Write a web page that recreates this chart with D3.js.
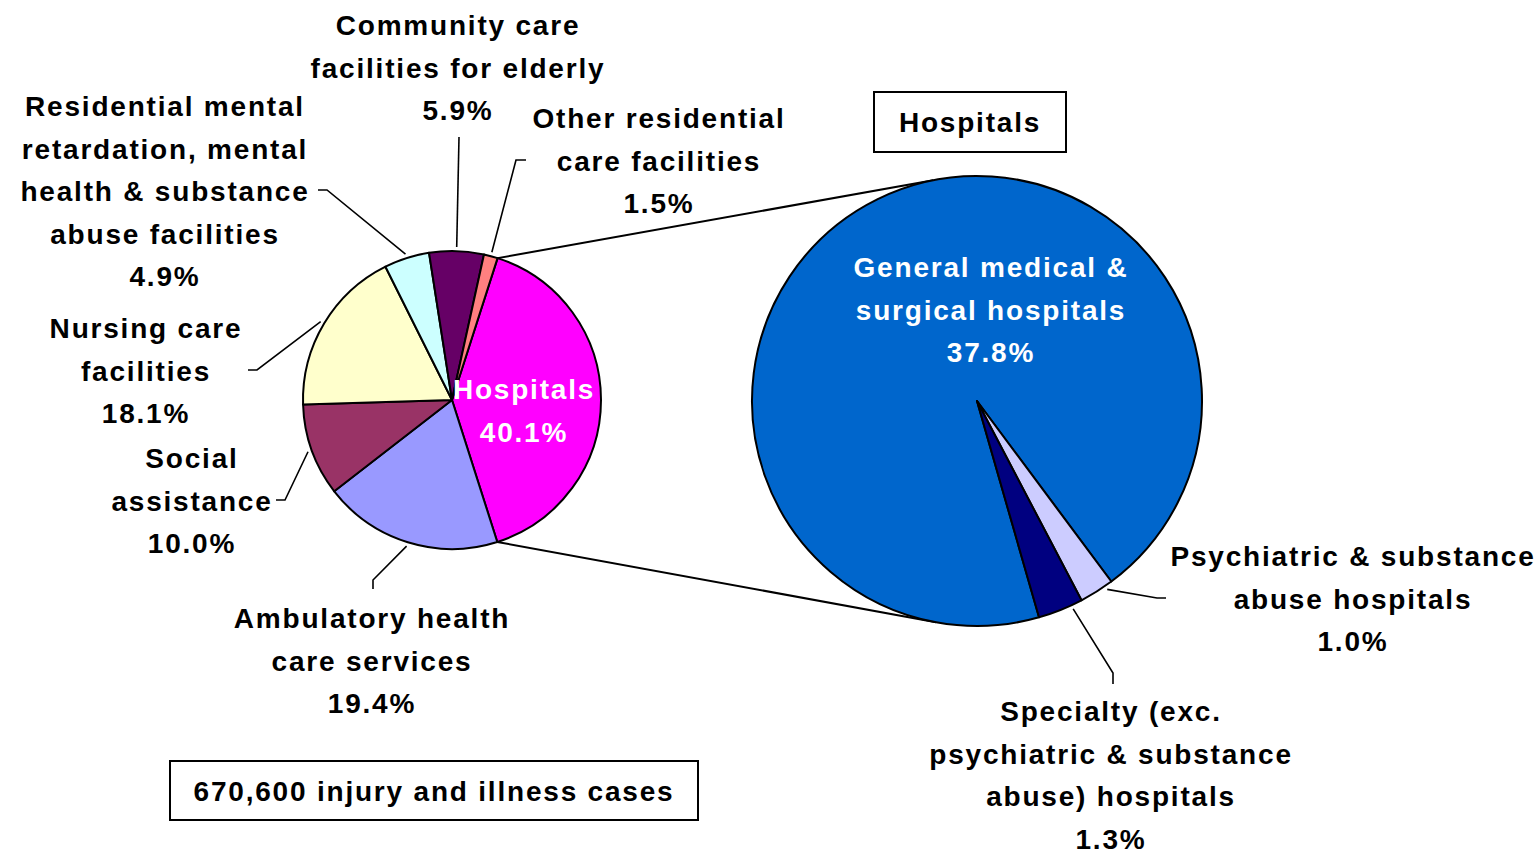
<!DOCTYPE html>
<html>
<head>
<meta charset="utf-8">
<script src="https://cdn.jsdelivr.net/npm/d3@7"></script>
<style>
  body { margin: 0; background: #fff; }
  svg text { font-family: 'Liberation Sans', Arial, sans-serif; font-weight: bold; font-size: 28px; letter-spacing: 1.8px; }
</style>
</head>
<body>
<div id="chart"></div>
<script>
'use strict';

// Industry breakdown (share of all cases, %)
var categories = [
  'Hospitals',
  'Ambulatory health care services',
  'Social assistance',
  'Nursing care facilities',
  'Residential mental retardation, mental health & substance abuse facilities',
  'Community care facilities for elderly',
  'Other residential care facilities'
];
var shares = [40.1, 19.4, 10.0, 18.1, 4.9, 5.9, 1.5];
var colors = ['#FF00FF', '#9999FF', '#993366', '#FFFFCC', '#CCFFFF', '#660066', '#FF8080'];
var labelLines = [
  ['Hospitals', '40.1%'],
  ['Ambulatory health', 'care services', '19.4%'],
  ['Social', 'assistance', '10.0%'],
  ['Nursing care', 'facilities', '18.1%'],
  ['Residential mental', 'retardation, mental', 'health & substance', 'abuse facilities', '4.9%'],
  ['Community care', 'facilities for elderly', '5.9%'],
  ['Other residential', 'care facilities', '1.5%']
];

// Hospitals split (share of all cases, %)
var hospitalTypes = [
  'General medical & surgical hospitals',
  'Psychiatric & substance abuse hospitals',
  'Specialty (exc. psychiatric & substance abuse) hospitals'
];
var hospitalShares = [37.8, 1.0, 1.3];
var hospitalColors = ['#0066CC', '#CCCCFF', '#000080'];
var hospitalLabelLines = [
  ['General medical &', 'surgical hospitals', '37.8%'],
  ['Psychiatric & substance', 'abuse hospitals', '1.0%'],
  ['Specialty (exc.', 'psychiatric & substance', 'abuse) hospitals', '1.3%']
];

var totalCases = '670,600 injury and illness cases';

// ── Layout ─────────────────────────────────────────
var W = 1540, H = 851;
var deg = Math.PI / 180;
var left = { cx: 452, cy: 400, r: 149, start: 17.8 };
var right = { cx: 977, cy: 401, r: 225, start: 164 };
var lineH = 42.5;

// label anchor (center x, first baseline), leader: elbow and tick end; inside labels have no leader
var leftLabels = [
  { x: 524, y: 399, fill: '#fff' },
  { x: 372, y: 628, elbow: [373, 580], end: [373, 589] },
  { x: 192, y: 468, elbow: [285, 500], end: [276, 500] },
  { x: 146, y: 338, elbow: [257, 370], end: [248, 370] },
  { x: 165, y: 116, elbow: [327, 190], end: [318, 190] },
  { x: 458, y: 35, elbow: [459, 137], end: [459, 137] },
  { x: 659, y: 128, elbow: [516, 160], end: [526, 160] }
];
var rightLabels = [
  { x: 991, y: 277, fill: '#fff' },
  { x: 1353, y: 566, elbow: [1157, 598], end: [1166, 598], nudge: -2.5 },
  { x: 1111, y: 721, elbow: [1113, 673], end: [1113, 684], nudge: -3 }
];

var svg = d3.select('#chart').append('svg')
  .attr('width', W)
  .attr('height', H);

function drawPie(values, fills, cfg) {
  var pie = d3.pie().sort(null)
    .startAngle(cfg.start * deg)
    .endAngle((cfg.start + 360) * deg);
  var arcs = pie(values);
  var arc = d3.arc().innerRadius(0).outerRadius(cfg.r);
  var g = svg.append('g').attr('transform', 'translate(' + cfg.cx + ',' + cfg.cy + ')');
  g.selectAll('path')
    .data(arcs)
    .join('path')
    .attr('d', arc)
    .attr('fill', function (d, i) { return fills[i]; })
    .attr('stroke', '#000')
    .attr('stroke-width', 2)
    .attr('stroke-linejoin', 'round');
  return arcs;
}

function polar(cfg, angle, r) {
  return [cfg.cx + r * Math.sin(angle), cfg.cy - r * Math.cos(angle)];
}

function drawLabels(arcs, lines, pos, cfg) {
  arcs.forEach(function (d, i) {
    var p = pos[i];
    if (p.elbow) {
      var mid = (d.startAngle + d.endAngle) / 2 + (p.nudge || 0) * deg;
      var a = polar(cfg, mid, cfg.r + 4);
      svg.append('polyline')
        .attr('points', [a, p.elbow, p.end].map(function (q) { return q.join(','); }).join(' '))
        .attr('fill', 'none')
        .attr('stroke', '#000')
        .attr('stroke-width', 1.6);
    }
    var t = svg.append('text')
      .attr('text-anchor', 'middle')
      .attr('fill', p.fill || '#000');
    lines[i].forEach(function (s, k) {
      t.append('tspan').attr('x', p.x).attr('y', p.y + k * lineH).text(s);
    });
  });
}

// Connectors between the two pies (drawn first, under the pies)
var leftArcs = d3.pie().sort(null).startAngle(left.start * deg).endAngle((left.start + 360) * deg)(shares);
var hosp = leftArcs[0];
var connectTo = [-11.2, 190.5];
[[hosp.startAngle, connectTo[0]], [hosp.endAngle, connectTo[1]]].forEach(function (c) {
  var a = polar(left, c[0], left.r);
  var b = polar(right, c[1] * deg, right.r);
  svg.append('line')
    .attr('x1', a[0]).attr('y1', a[1])
    .attr('x2', b[0]).attr('y2', b[1])
    .attr('stroke', '#000')
    .attr('stroke-width', 2);
});

var la = drawPie(shares, colors, left);
var ra = drawPie(hospitalShares, hospitalColors, right);
drawLabels(la, labelLines, leftLabels, left);
drawLabels(ra, hospitalLabelLines, rightLabels, right);

// Boxes
function box(x, y, w, h, text) {
  svg.append('rect')
    .attr('x', x).attr('y', y).attr('width', w).attr('height', h)
    .attr('fill', '#fff').attr('stroke', '#000').attr('stroke-width', 2);
  svg.append('text')
    .attr('x', x + w / 2).attr('y', y + h / 2 + 10)
    .attr('text-anchor', 'middle')
    .text(text);
}
box(874, 92, 192, 60, 'Hospitals');
box(170, 761, 528, 59, totalCases);
</script>
</body>
</html>
